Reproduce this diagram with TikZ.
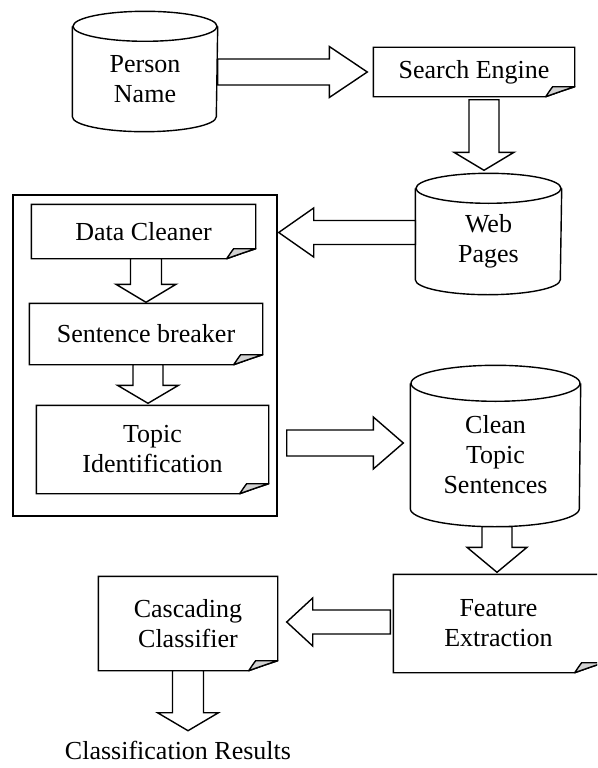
\documentclass[tikz,border=0pt]{standalone}
\usepackage{fontspec}
\setmainfont{Liberation Serif}
\usetikzlibrary{calc}

\tikzset{every picture/.style={line width=1.4pt}}
\tikzset{
  box text/.style={inner sep=0pt, align=center, font=\fontsize{26}{30}\selectfont},
  group box/.style={draw, inner sep=0pt, minimum width=264pt, minimum height=321pt},
  fat arrow/.style={draw, fill=white, line join=miter},
  flap/.style={draw, fill=gray!35, line join=round}
}

% can: top ellipse on the north side, bottom arc ending at the south side
\newcommand\drawcan[3]{%
  \draw (#1.north) ellipse [x radius=#2, y radius=#3];
  \draw (#1.north west) -- ($(#1.south west)+(0,-#3)$)
    arc [start angle=180, end angle=0, x radius=#2, y radius=#3] -- (#1.north east);
}
% folded corner box
\newcommand\drawfold[1]{%
  \draw (#1.north west) -- (#1.north east) -- ($(#1.south east)+(0,-10)$)
    .. controls ($(#1.south east)+(-12,-6)$) .. ($(#1.south east)+(-29,0)$) -- (#1.south west) -- cycle;
  \draw[flap] ($(#1.south east)+(-29,0)$) .. controls ($(#1.south east)+(-25,-6)$) .. ($(#1.south east)+(-22,-10)$)
    -- ($(#1.south east)+(0,-10)$) .. controls ($(#1.south east)+(-12,-6)$) .. ($(#1.south east)+(-29,0)$) -- cycle;
}
% block arrow: from, tip, shaft half width, head half width, head length
\newcommand\fatarrow[5]{%
  \coordinate (neck) at ($(#2)!#5!(#1)$);
  \draw[fat arrow] ($(#1)!#3!90:(#2)$) -- ($(neck)!#3!90:(#2)$) -- ($(neck)!#4!90:(#2)$) -- (#2)
    -- ($(neck)!#4!-90:(#2)$) -- ($(neck)!#3!-90:(#2)$) -- ($(#1)!#3!-90:(#2)$) -- cycle;
}

\begin{document}
\begin{tikzpicture}[x=1pt,y=1pt,yscale=-1,xscale=1]
\path[use as bounding box, clip] (0,0) rectangle (597,768);

%Shape: Can
\node[box text, minimum width=144pt, minimum height=104pt] (pn) at (145,79) {Person\\Name};
\drawcan{pn}{72}{15}
%Shape: Folded Corner
\node[box text, minimum width=200pt, minimum height=48pt] (se) at (474,72) {Search Engine};
\drawfold{se}
%Shape: Can
\node[box text, minimum width=145pt, minimum height=105pt] (wp) at (488.5,241.5) {Web\\Pages};
\drawcan{wp}{72.5}{15}

%Shape: Rectangle
\node[group box] (outer) at (145,355.5) {};
%Shape: Folded Corner
\node[box text, minimum width=223pt, minimum height=53pt] (dc) at (143.5,231.5) {Data Cleaner};
\drawfold{dc}
%Shape: Folded Corner
\node[box text, minimum width=232pt, minimum height=60pt] (sb) at (146,334) {Sentence breaker};
\drawfold{sb}
%Shape: Folded Corner
\node[box text, minimum width=231pt, minimum height=87pt] (ti) at (152.5,449.5) {Topic\\Identification};
\drawfold{ti}

%Shape: Can
\node[box text, minimum width=169pt, minimum height=142pt] (cts) at (495.5,455) {Clean\\Topic\\Sentences};
\drawcan{cts}{84.5}{18}
%Shape: Folded Corner
\node[box text, minimum width=209pt, minimum height=97pt] (fe) at (498.5,623.5) {Feature\\Extraction};
\drawfold{fe}
%Shape: Folded Corner
\node[box text, minimum width=178pt, minimum height=93pt] (cc) at (188,623.5) {Cascading\\Classifier};
\drawfold{cc}

% Text Node
\node[box text] (res) at (178,750) {Classification Results};

%Block Arrows
\coordinate (s1) at (pn.east |- se.west);
\coordinate (t1) at ($(se.west)+(-6,0)$);
\fatarrow{s1}{t1}{13pt}{25.5pt}{38pt}
\coordinate (s2) at ($(se.south)+(10,3)$);
\coordinate (t2) at ($(s2 |- wp.north)+(0,-18)$);
\fatarrow{s2}{t2}{15pt}{30pt}{18pt}
\coordinate (s3) at ($(wp.west)+(0,-9)$);
\coordinate (t3) at ($(outer.east |- s3)+(1,0)$);
\fatarrow{s3}{t3}{12pt}{24.5pt}{35pt}
\coordinate (s4) at (sb.north |- dc.south);
\coordinate (t4) at ($(sb.north)+(0,-1)$);
\fatarrow{s4}{t4}{15.5pt}{30pt}{18pt}
\coordinate (s5) at ($(sb.south)+(2,0)$);
\coordinate (t5) at ($(s5 |- ti.north)+(0,-2)$);
\fatarrow{s5}{t5}{15pt}{30.5pt}{18pt}
\coordinate (s6) at ($(outer.east |- cts.west)+(9,-12)$);
\coordinate (t6) at ($(cts.west)+(-7,-12)$);
\fatarrow{s6}{t6}{13pt}{26pt}{30pt}
\coordinate (s7) at ($(cts.south)+(1.5,0)$);
\coordinate (t7) at ($(s7 |- fe.north)+(0,-2)$);
\fatarrow{s7}{t7}{15pt}{30pt}{25pt}
\coordinate (s8) at ($(fe.west)+(-3,-1.5)$);
\coordinate (t8) at ($(cc.east)+(9,-1.5)$);
\fatarrow{s8}{t8}{12pt}{24pt}{26pt}
\coordinate (s9) at (cc.south);
\coordinate (t9) at ($(cc.south)+(0,60)$);
\fatarrow{s9}{t9}{15.5pt}{30.5pt}{18pt}

\end{tikzpicture}
\end{document}
